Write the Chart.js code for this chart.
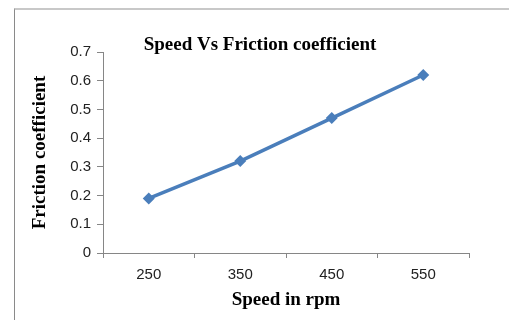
<!DOCTYPE html>
<html>
<head>
<meta charset="utf-8">
<script src="https://cdn.jsdelivr.net/npm/chart.js@4/dist/chart.umd.min.js"></script>
<style>
  html, body { margin: 0; padding: 0; background: #fff; }
  #wrap { position: relative; width: 509px; height: 320px; overflow: hidden; }
  #frame {
    position: absolute; left: 14px; top: 8px; right: -5px; bottom: -5px;
    border-top: 2px solid #c8c8c8; border-left: 1px solid #8a8a8a;
  }
  canvas { position: absolute; left: 0; top: 0; }
</style>
</head>
<body>
<div id="wrap">
  <div id="frame"></div>
  <canvas id="grafico" width="509" height="320"></canvas>
</div>
<script>
// Velocidad (rpm) y coeficiente de friccion
const speeds = ['250', '350', '450', '550'];
const friction = [0.19, 0.32, 0.47, 0.62];
const yTicks = [0, 0.1, 0.2, 0.3, 0.4, 0.5, 0.6, 0.7];
const tituloGrafico = 'Speed Vs Friction coefficient';

const azul = '#4a7ebb';
const ejeColor = '#868686';
const fuenteTicks = { family: 'Liberation Sans', size: 15 };
const fuenteTitulo = { family: 'Liberation Serif', size: 19, weight: 'bold' };

// Titulo propio: va centrado algo a la izquierda del area del grafico
const tituloPlugin = {
    id: 'tituloPlugin',
    afterDraw(chart) {
        const ctx = chart.ctx;
        ctx.save();
        ctx.font = 'bold 19px "Liberation Serif"';
        ctx.fillStyle = '#000';
        ctx.textAlign = 'center';
        ctx.textBaseline = 'alphabetic';
        ctx.fillText(tituloGrafico, 260, 49.5);
        ctx.restore();
    }
};

new Chart(document.getElementById('grafico').getContext('2d'), {
    type: 'line',
    data: {
        labels: speeds,
        datasets: [{
            label: 'Friction coefficient',
            data: friction,
            borderColor: azul,
            backgroundColor: azul,
            borderWidth: 3.5,
            pointStyle: 'rectRot',
            pointRadius: 6,
            pointBorderWidth: 0,
            tension: 0,
            fill: false
        }]
    },
    options: {
        responsive: false,
        animation: false,
        layout: { padding: { top: 52, left: 15, right: 40, bottom: 0 } },
        scales: {
            x: {
                offset: true,
                grid: {
                    offset: true,
                    drawOnChartArea: false,
                    color: ejeColor,
                    tickLength: 5
                },
                border: { color: ejeColor, width: 1 },
                ticks: { color: '#222', font: fuenteTicks, padding: 8, maxRotation: 0 },
                title: {
                    display: true,
                    text: 'Speed in rpm',
                    color: '#000',
                    font: fuenteTitulo,
                    padding: { top: 0, bottom: 9 }
                },
                afterFit: function (scale) { scale.height = 67; }
            },
            y: {
                min: 0,
                max: 0.7,
                afterBuildTicks: function (scale) {
                    scale.ticks = yTicks.map(v => ({ value: v }));
                },
                grid: {
                    drawOnChartArea: false,
                    color: ejeColor,
                    tickLength: 6
                },
                border: { color: ejeColor, width: 1 },
                ticks: {
                    color: '#222',
                    font: fuenteTicks,
                    padding: 6,
                    callback: v => String(Math.round(v * 10) / 10)
                },
                title: {
                    display: true,
                    text: 'Friction coefficient',
                    color: '#000',
                    font: fuenteTitulo,
                    padding: { top: 13.5, bottom: 0 }
                },
                afterFit: function (scale) { scale.width = 88; }
            }
        },
        plugins: {
            legend: { display: false },
            tooltip: { enabled: false },
            title: { display: false }
        }
    },
    plugins: [tituloPlugin]
});
</script>
</body>
</html>
